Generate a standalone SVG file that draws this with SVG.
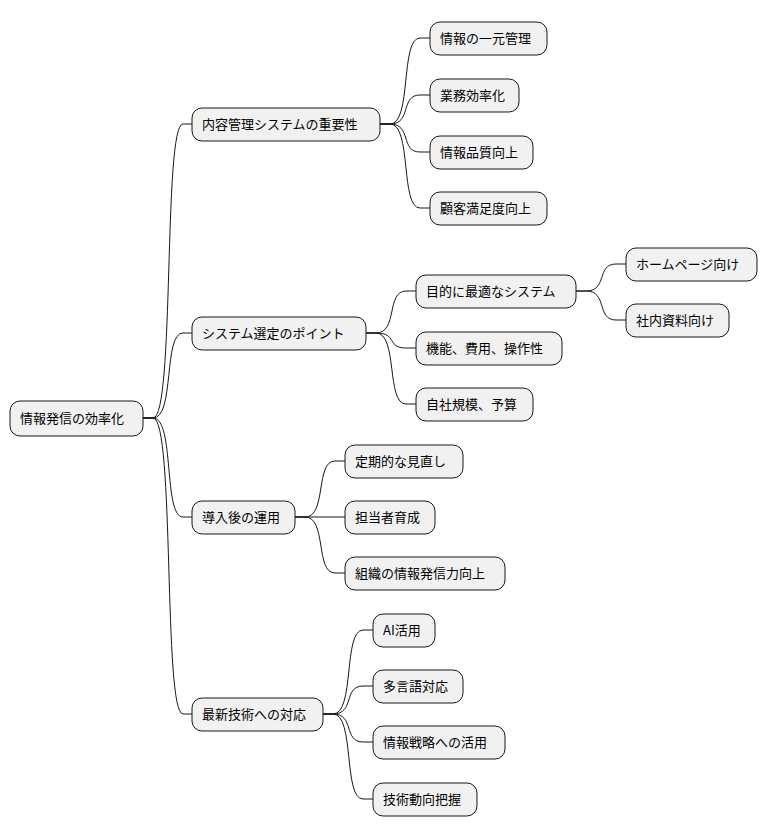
<svg xmlns="http://www.w3.org/2000/svg" width="768" height="837" viewBox="0 0 768 837">
<style>
.n rect{fill:#F1F1F1;stroke:#181818;stroke-width:1}
.n text{font-family:"Noto Sans CJK JP","Noto Sans",sans-serif;font-size:13px;fill:#000}
#edges path{fill:none;stroke:#181818;stroke-width:1}
</style>
<rect width="768" height="837" fill="#fff"/>
<g id="edges">
<path d="M143,418 L153,418 C175,418 163,124 183,124 L192,124"/>
<path d="M143,418 L153,418 C175,418 163,333 183,333 L192,333"/>
<path d="M143,418 L153,418 C175,418 163,517 183,517 L192,517"/>
<path d="M143,418 L153,418 C175,418 163,714 183,714 L192,714"/>
<path d="M380,124 L390,124 C412,124 400,38 420,38 L430,38"/>
<path d="M380,124 L390,124 C412,124 400,95 420,95 L430,95"/>
<path d="M380,124 L390,124 C412,124 400,152 420,152 L430,152"/>
<path d="M380,124 L390,124 C412,124 400,208 420,208 L430,208"/>
<path d="M366,333 L376,333 C398,333 386,291 406,291 L416,291"/>
<path d="M366,333 L376,333 C398,333 386,348 406,348 L416,348"/>
<path d="M366,333 L376,333 C398,333 386,404 406,404 L416,404"/>
<path d="M576,291 L586,291 C608,291 596,264 616,264 L626,264"/>
<path d="M576,291 L586,291 C608,291 596,320 616,320 L626,320"/>
<path d="M295,517 L305,517 C327,517 315,461 335,461 L345,461"/>
<path d="M295,517 L345,517"/>
<path d="M295,517 L305,517 C327,517 315,573 335,573 L345,573"/>
<path d="M323,714 L333,714 C355,714 343,630 363,630 L373,630"/>
<path d="M323,714 L333,714 C355,714 343,686 363,686 L373,686"/>
<path d="M323,714 L333,714 C355,714 343,742 363,742 L373,742"/>
<path d="M323,714 L333,714 C355,714 343,799 363,799 L373,799"/>
</g>
<g id="root" class="n"><rect x="10" y="401" width="133" height="35" rx="10"/><text x="20" y="423">情報発信の効率化</text></g>
<g id="a" class="n"><rect x="192" y="108" width="188" height="33" rx="10"/><text x="202" y="129">内容管理システムの重要性</text></g>
<g id="b" class="n"><rect x="192" y="317" width="174" height="33" rx="10"/><text x="202" y="338">システム選定のポイント</text></g>
<g id="c" class="n"><rect x="192" y="501" width="103" height="33" rx="10"/><text x="202" y="522">導入後の運用</text></g>
<g id="d" class="n"><rect x="192" y="698" width="131" height="33" rx="10"/><text x="202" y="719">最新技術への対応</text></g>
<g id="a1" class="n"><rect x="430" y="22" width="117" height="33" rx="10"/><text x="440" y="43">情報の一元管理</text></g>
<g id="a2" class="n"><rect x="430" y="79" width="89" height="33" rx="10"/><text x="440" y="100">業務効率化</text></g>
<g id="a3" class="n"><rect x="430" y="136" width="103" height="33" rx="10"/><text x="440" y="157">情報品質向上</text></g>
<g id="a4" class="n"><rect x="430" y="192" width="117" height="33" rx="10"/><text x="440" y="213">顧客満足度向上</text></g>
<g id="b1" class="n"><rect x="416" y="275" width="160" height="33" rx="10"/><text x="426" y="296">目的に最適なシステム</text></g>
<g id="b2" class="n"><rect x="416" y="332" width="146" height="33" rx="10"/><text x="426" y="353">機能、費用、操作性</text></g>
<g id="b3" class="n"><rect x="416" y="388" width="117" height="33" rx="10"/><text x="426" y="409">自社規模、予算</text></g>
<g id="b11" class="n"><rect x="626" y="248" width="131" height="33" rx="10"/><text x="636" y="269">ホームページ向け</text></g>
<g id="b12" class="n"><rect x="626" y="304" width="103" height="33" rx="10"/><text x="636" y="325">社内資料向け</text></g>
<g id="c1" class="n"><rect x="345" y="445" width="118" height="33" rx="10"/><text x="355" y="466">定期的な見直し</text></g>
<g id="c2" class="n"><rect x="345" y="501" width="90" height="33" rx="10"/><text x="355" y="522">担当者育成</text></g>
<g id="c3" class="n"><rect x="345" y="557" width="160" height="33" rx="10"/><text x="355" y="578">組織の情報発信力向上</text></g>
<g id="d1" class="n"><rect x="373" y="614" width="62" height="33" rx="10"/><text x="383" y="635">AI活用</text></g>
<g id="d2" class="n"><rect x="373" y="670" width="90" height="33" rx="10"/><text x="383" y="691">多言語対応</text></g>
<g id="d3" class="n"><rect x="373" y="726" width="132" height="33" rx="10"/><text x="383" y="747">情報戦略への活用</text></g>
<g id="d4" class="n"><rect x="373" y="783" width="104" height="33" rx="10"/><text x="383" y="804">技術動向把握</text></g>
</svg>
